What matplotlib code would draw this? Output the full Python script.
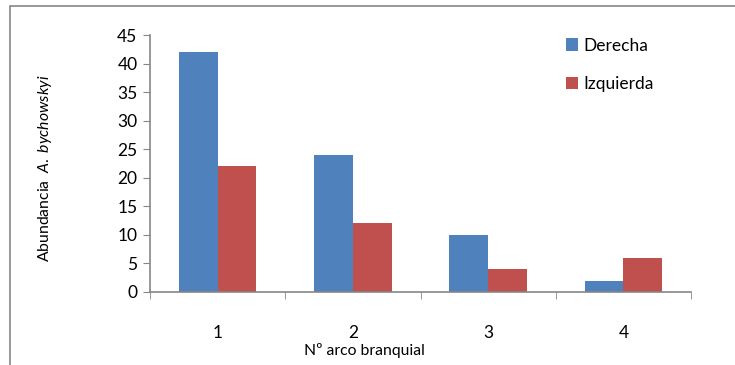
import numpy as np
import matplotlib
matplotlib.use("Agg")
import matplotlib.pyplot as plt
from matplotlib.patches import Rectangle

plt.rcParams["font.family"] = ["Lato", "DejaVu Sans"]
plt.rcParams["mathtext.fontset"] = "custom"
plt.rcParams["mathtext.rm"] = "Lato"
plt.rcParams["mathtext.it"] = "Lato:italic"

categories = ["1", "2", "3", "4"]
derecha = [42, 24, 10, 2]
izquierda = [22, 12, 4, 6]
series_names = ["Derecha", "Izquierda"]
colors = ["#4F81BD", "#C0504D"]
yticks = list(range(0, 50, 5))

fig = plt.figure(figsize=(7.35, 3.65), dpi=100)

# outer chart frame (runs off the right/bottom edge like the original)
fig.patches.append(Rectangle((10 / 735, -0.1), 1.2, 1 - 6 / 365 + 0.1,
                             transform=fig.transFigure, fill=False,
                             edgecolor="#868686", lw=1.2))

ax = fig.add_axes([150 / 735, 1 - 292 / 365, (691 - 150) / 735, (292 - 35) / 365])

x = np.arange(1, len(categories) + 1)
w = 1 / 3.5
ax.bar(x - w / 2, derecha, w, color=colors[0], label=series_names[0])
ax.bar(x + w / 2, izquierda, w, color=colors[1], label=series_names[1])

ax.set_xlim(0.5, 4.5)
ax.set_ylim(0, 45)
ax.set_yticks(yticks)
ax.set_xticks(x)
ax.set_xticklabels(categories)
ax.set_xticks(np.arange(0.5, 5, 1), minor=True)
ax.tick_params(axis="x", which="major", length=0, pad=24, labelsize=12.5)
ax.tick_params(axis="x", which="minor", length=5, color="#868686", direction="out")
ax.tick_params(axis="y", length=5, color="#868686", labelsize=12.5, pad=4)

for s in ["top", "right"]:
    ax.spines[s].set_visible(False)
for s in ["left", "bottom"]:
    ax.spines[s].set_color("#868686")
    ax.spines[s].set_linewidth(1.2)

fig.text(364 / 735, 1 - 350 / 365, "Nº arco branquial", ha="center", va="center", fontsize=11.3)
fig.text(45 / 735, 1 - 168 / 365, r"Abundancia  $A.\ bychowskyi$", rotation=90,
         ha="center", va="center", fontsize=11.3)

leg = fig.legend(loc="upper left", bbox_to_anchor=(550 / 735, 1 - 22 / 365), frameon=False,
                 fontsize=12.5, handlelength=0.7, handleheight=0.7, handletextpad=0.3,
                 labelspacing=1.3)

fig.savefig("out.png", dpi=100)
